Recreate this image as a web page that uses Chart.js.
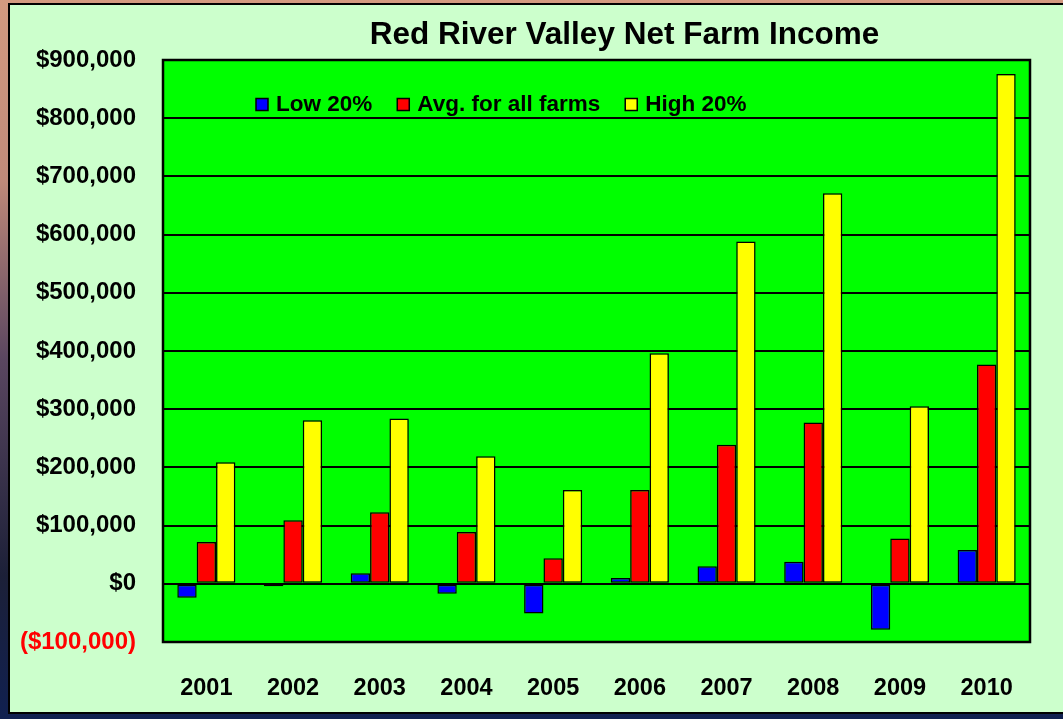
<!DOCTYPE html>
<html>
<head>
<meta charset="utf-8">
<script src="https://cdn.jsdelivr.net/npm/chart.js@4/dist/chart.umd.min.js"></script>
<style>
  html, body { margin: 0; padding: 0; overflow: hidden; background: #1a1c30; }
</style>
</head>
<body>
<canvas id="canvas"></canvas>
<script>
const years = ["2001", "2002", "2003", "2004", "2005", "2006", "2007", "2008", "2009", "2010"];

const low20 = [-24000, -4000, 18000, -17000, -51000, 10000, 30000, 38000, -79000, 58000];
const avgAll = [72000, 109000, 123000, 89000, 44000, 161000, 239000, 277000, 78000, 377000];
const high20 = [209000, 281000, 284000, 219000, 161000, 396000, 588000, 671000, 305000, 876000];

const seriesNames = ["Low 20%", "Avg. for all farms", "High 20%"];
const seriesColors = ["#0000ff", "#ff0000", "#ffff00"];
const chartTitle = "Red River Valley Net Farm Income";

const yMin = -100000;
const yMax = 900000;
const yStep = 100000;

const FONT = "'Liberation Sans', Arial, sans-serif";

const canvas = document.getElementById("canvas");
const ctx = canvas.getContext("2d");
canvas.width = 1063;
canvas.height = 719;

const money = (v) => {
  const s = "$" + Math.abs(v).toLocaleString("en-US");
  return v < 0 ? "(" + s + ")" : s;
};

// panel, plot background, title, plot border and the in-plot legend
const frame = {
  id: "frame",
  beforeDraw(chart) {
    const { ctx, width, height, chartArea: a } = chart;
    ctx.save();
    const g = ctx.createLinearGradient(0, 0, 0, height);
    g.addColorStop(0, "#d39a80");
    g.addColorStop(0.25, "#c08a7a");
    g.addColorStop(0.5, "#5a4660");
    g.addColorStop(0.8, "#1c2038");
    g.addColorStop(1, "#102050");
    ctx.fillStyle = g;
    ctx.fillRect(0, 0, width, height);

    ctx.fillStyle = "#ccffcc";
    ctx.fillRect(9, 4, width, 709);
    ctx.strokeStyle = "#000";
    ctx.lineWidth = 2;
    ctx.strokeRect(9, 4, width, 709);

    ctx.fillStyle = "#00ff00";
    ctx.fillRect(a.left, a.top, a.right - a.left, a.bottom - a.top);

    ctx.fillStyle = "#000";
    ctx.font = "bold 31.5px " + FONT;
    ctx.textAlign = "center";
    ctx.textBaseline = "middle";
    ctx.fillText(chartTitle, (a.left + a.right) / 2 + 28, 35);
    ctx.restore();
  },
  afterDatasetsDraw(chart) {
    const { ctx, chartArea: a } = chart;
    ctx.save();
    ctx.strokeStyle = "#000";
    ctx.lineWidth = 2.5;
    ctx.strokeRect(a.left, a.top, a.right - a.left, a.bottom - a.top);

    // legend
    ctx.font = "bold 22.5px " + FONT;
    ctx.textBaseline = "middle";
    let x = a.left + 93;
    const y = a.top + 44.5;
    chart.data.datasets.forEach((ds) => {
      ctx.fillStyle = ds.backgroundColor;
      ctx.fillRect(x, y - 6, 12, 12);
      ctx.lineWidth = 1.5;
      ctx.strokeStyle = "#000";
      ctx.strokeRect(x, y - 6, 12, 12);
      x += 20;
      ctx.fillStyle = "#000";
      ctx.fillText(ds.label, x, y);
      x += ctx.measureText(ds.label).width + 25;
    });
    ctx.restore();
  },
};

const chart = new Chart(ctx, {
  type: "bar",
  data: {
    labels: years,
    datasets: [low20, avgAll, high20].map((d, i) => ({
      label: seriesNames[i],
      data: d,
      backgroundColor: seriesColors[i],
      borderColor: "#000",
      borderWidth: 1.5,
      borderSkipped: false,
      categoryPercentage: 0.67,
      barPercentage: 1.0,
    })),
  },
  options: {
    responsive: false,
    animation: false,
    layout: {
      padding: { top: 60, left: 0, right: 33, bottom: 17 },
    },
    plugins: {
      legend: { display: false },
      tooltip: { enabled: false },
      title: { display: false },
    },
    scales: {
      x: {
        afterFit: (s) => {
          s.height = 60;
        },
        grid: { display: false, drawTicks: false },
        border: { display: false },
        ticks: {
          color: "#000",
          padding: 32,
          font: { family: FONT, size: 23.5, weight: "bold" },
        },
      },
      y: {
        min: yMin,
        max: yMax,
        afterFit: (s) => {
          s.width = 163;
        },
        grid: { color: "#000", lineWidth: 2, drawTicks: false },
        border: { display: false },
        ticks: {
          stepSize: yStep,
          padding: 27,
          color: (c) => (c.tick && c.tick.value < 0 ? "#ff0000" : "#000"),
          font: { family: FONT, size: 24, weight: "bold" },
          callback: (v) => money(v),
        },
      },
    },
  },
  plugins: [frame],
});
</script>
</body>
</html>
